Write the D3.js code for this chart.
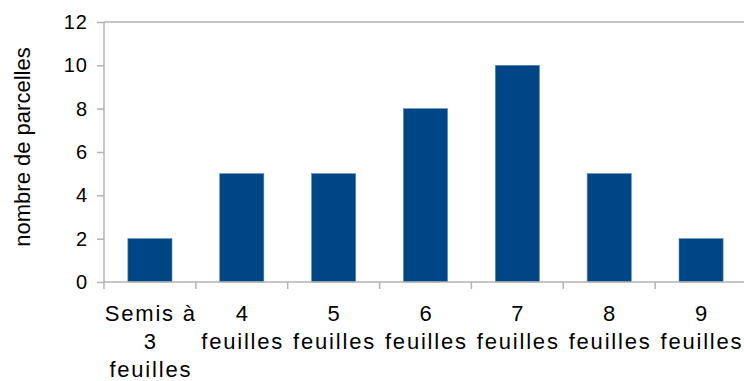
<!DOCTYPE html>
<html><head><meta charset="utf-8">
<script src="https://cdn.jsdelivr.net/npm/d3@7"></script>
<style>body{margin:0;background:#fff}svg{display:block}text{font-family:"Liberation Sans",Arial,sans-serif;fill:#000}</style>
</head><body>
<svg id="c" width="744" height="381"></svg>
<script>
const categories = [["Semis à","3","feuilles"],["4","feuilles"],["5","feuilles"],["6","feuilles"],["7","feuilles"],["8","feuilles"],["9","feuilles"]];
const values = [2,5,5,8,10,5,2];
const yTicks = [0,2,4,6,8,10,12];
const yTitle = "nombre de parcelles";

(function(){
const svg = d3.select("#c");
const mLeft = 104, mRight = 747, mTop = 22, mBottom = 282;
const fs = 22, ls = 1.8;
const keys = categories.map((c,i)=>i);
const x = d3.scaleBand().domain(keys).range([mLeft,mRight]).paddingInner(0.52).paddingOuter(0.26);
const xb = d3.scaleBand().domain(keys).range([mLeft,mRight]);
const y = d3.scaleLinear().domain([0,12]).range([mBottom,mTop]);
const axisColor = "#b3b3b3";

svg.append("line").attr("x1",mLeft).attr("x2",mRight).attr("y1",y(12)).attr("y2",y(12)).attr("stroke",axisColor).attr("stroke-width",1.3);

svg.append("g").selectAll("rect").data(values).join("rect")
  .attr("x",(d,i)=>x(i)).attr("width",x.bandwidth())
  .attr("y",d=>y(d)).attr("height",d=>y(0)-y(d))
  .attr("fill","#004586").attr("stroke","#5b86b3").attr("stroke-width",0.6);

const ya = svg.append("g").attr("transform",`translate(${mLeft},0)`)
  .call(d3.axisLeft(y).tickValues(yTicks).tickSize(7).tickPadding(9));
ya.select(".domain").attr("stroke",axisColor).attr("stroke-width",1.5).attr("d",`M0,${mBottom}V${mTop}`);
ya.selectAll(".tick line").attr("stroke",axisColor).attr("stroke-width",1.5);
ya.selectAll(".tick text").attr("font-size",fs-2).attr("letter-spacing",1).attr("font-family","Liberation Sans, Arial, sans-serif").attr("fill","#000");

const xa = svg.append("g").attr("transform",`translate(0,${mBottom})`);
xa.append("line").attr("x1",mLeft).attr("x2",mRight).attr("stroke",axisColor).attr("stroke-width",1.5);
xa.selectAll("line.t").data(keys.concat([keys.length])).join("line").attr("class","t")
  .attr("x1",i=>mLeft+i*xb.bandwidth()).attr("x2",i=>mLeft+i*xb.bandwidth())
  .attr("y1",0).attr("y2",7).attr("stroke",axisColor).attr("stroke-width",1.5);
const lab = xa.selectAll("text").data(categories).join("text")
  .attr("text-anchor","middle").attr("font-size",fs).attr("letter-spacing",ls);
lab.each(function(lines,i){
  const t = d3.select(this);
  lines.forEach((l,j)=>t.append("tspan").attr("x",xb(i)+xb.bandwidth()/2 + ls/2).attr("y",39+j*28).text(l));
});

svg.append("text").attr("transform",`translate(30,${(mTop+mBottom)/2 - 5}) rotate(-90)`)
  .attr("text-anchor","middle").attr("font-size",fs).text(yTitle);
})();
</script>
</body></html>
